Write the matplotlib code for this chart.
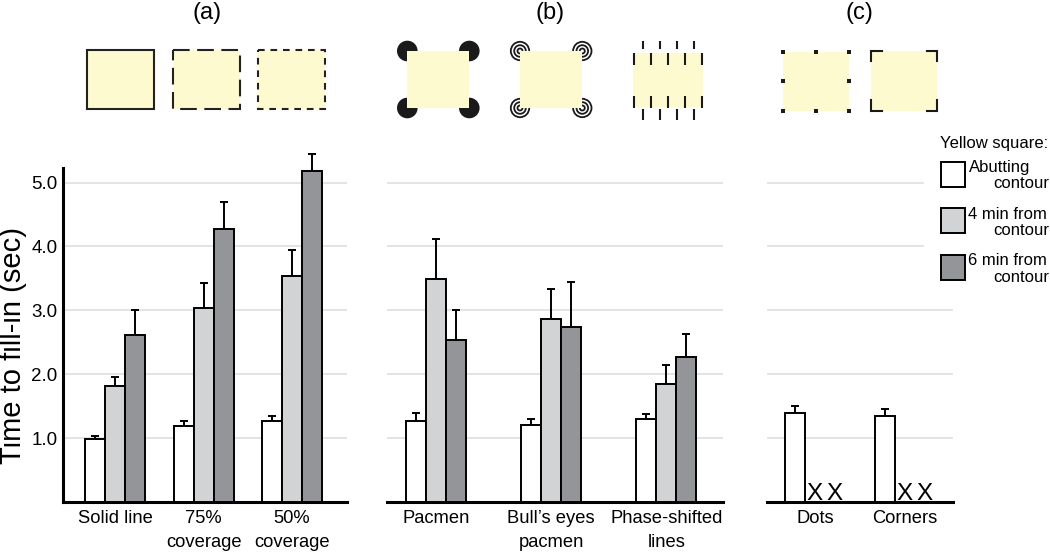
import numpy as np
import matplotlib
matplotlib.use("Agg")
import matplotlib.pyplot as plt
from matplotlib.patches import Rectangle, Circle

plt.rcParams['font.family'] = ['Liberation Sans', 'DejaVu Sans']

# ---------------- data ----------------
series_labels = ["Abutting", "4 min from", "6 min from"]
series_sub = ["contour", "contour", "contour"]
legend_title = "Yellow square:"
panel_titles = ["(a)", "(b)", "(c)"]
ylabel = "Time to fill-in (sec)"
yticks = [1.0, 2.0, 3.0, 4.0, 5.0]
ytick_labels = ["1.0", "2.0", "3.0", "4.0", "5.0"]

cats_a = ["Solid line", "75%\ncoverage", "50%\ncoverage"]
abut_a = [0.98, 1.19, 1.27]
abut_a_err = [0.06, 0.08, 0.07]
min4_a = [1.81, 3.04, 3.53]
min4_a_err = [0.14, 0.39, 0.42]
min6_a = [2.61, 4.28, 5.18]
min6_a_err = [0.40, 0.42, 0.27]

cats_b = ["Pacmen", "Bull\u2019s eyes\npacmen", "Phase-shifted\nlines"]
abut_b = [1.26, 1.20, 1.30]
abut_b_err = [0.13, 0.10, 0.08]
min4_b = [3.49, 2.87, 1.84]
min4_b_err = [0.62, 0.47, 0.30]
min6_b = [2.54, 2.74, 2.27]
min6_b_err = [0.47, 0.70, 0.36]

cats_c = ["Dots", "Corners"]
abut_c = [1.39, 1.34]
abut_c_err = [0.12, 0.11]
min4_c = [np.nan, np.nan]   # no fill-in (marked X)
min4_c_err = [np.nan, np.nan]
min6_c = [np.nan, np.nan]   # no fill-in (marked X)
min6_c_err = [np.nan, np.nan]

colors = ["#ffffff", "#d1d3d4", "#939598"]
yellow = "#fefad0"

# ---------------- layout ----------------
W, H = 1050, 552
fig = plt.figure(figsize=(W / 100, H / 100), dpi=100)
PPU = 63.9       # pixels per second
Y0 = 502.0       # pixel row of value 0
YMAX = 5.6

ov = fig.add_axes([0, 0, 1, 1], zorder=0)
ov.set_xlim(0, W)
ov.set_ylim(H, 0)
ov.axis('off')


def panel_axes(x0, x1):
    ax = fig.add_axes([x0 / W, (H - Y0) / H, (x1 - x0) / W, YMAX * PPU / H], zorder=1)
    ax.set_facecolor('none')
    ax.set_ylim(0, YMAX)
    for s in ['top', 'right', 'left']:
        ax.spines[s].set_visible(False)
    ax.spines['bottom'].set_linewidth(2.2)
    ax.spines['bottom'].set_color('black')
    ax.tick_params(axis='x', length=0, pad=5.8, labelsize=13.2)
    ax.tick_params(axis='y', length=0, pad=4, labelsize=13.5)
    ax.set_yticks([])
    return ax


def draw_panel(ax, x0_px, x1_px, first_c, spacing, cats, vals, errs, grid_ext=None):
    ax.set_xlim(-(first_c - x0_px) / spacing, (x1_px - first_c) / spacing)
    w = 20.0 / spacing
    x = np.arange(len(cats))
    # gridlines
    for i, yt in enumerate(yticks):
        xmax = 1.0 if grid_ext is None else grid_ext[i]
        ax.axhline(yt, xmin=0, xmax=xmax, color='#dcdddf', lw=1.1, zorder=0)
    for s, (v, e) in enumerate(zip(vals, errs)):
        v = np.asarray(v, dtype=float)
        e = np.asarray(e, dtype=float)
        pos = x + (s - 1) * w
        ok = ~np.isnan(v)
        ax.bar(pos[ok], v[ok], w, color=colors[s], edgecolor='black', linewidth=1.4, zorder=3)
        ax.errorbar(pos[ok], v[ok], yerr=[np.zeros(ok.sum()), e[ok]], fmt='none',
                    ecolor='black', elinewidth=1.4, capsize=2.6, capthick=1.4, zorder=2)
        for p in pos[~ok]:
            ax.text(p, 0.03, "X", ha='center', va='baseline', fontsize=17.5,
                    color='black', zorder=4)
    ax.set_xticks(x)
    ax.set_xticklabels(cats, linespacing=1.5)


# panel (a)
ax_a = panel_axes(63, 347)
draw_panel(ax_a, 63, 347, 115.4, 88.2, cats_a,
           [abut_a, min4_a, min6_a], [abut_a_err, min4_a_err, min6_a_err])
ax_a.spines['left'].set_visible(True)
ax_a.spines['left'].set_linewidth(2.2)
ax_a.spines['left'].set_bounds(0, 5.22)
ax_a.set_yticks(yticks)
ax_a.set_yticklabels(ytick_labels)

# panel (b)
ax_b = panel_axes(387, 723)
draw_panel(ax_b, 387, 723, 436.3, 115.0, cats_b,
           [abut_b, min4_b, min6_b], [abut_b_err, min4_b_err, min6_b_err])

# panel (c)
ax_c = panel_axes(767, 953)
fr = (923 - 767) / (953 - 767)
draw_panel(ax_c, 767, 953, 815.0, 90.0, cats_c,
           [abut_c, min4_c, min6_c], [abut_c_err, min4_c_err, min6_c_err],
           grid_ext=[1, 1, 1, fr, fr])

# y label
ov.text(21.5, 345, ylabel, rotation=90, rotation_mode='anchor', ha='center',
        va='baseline', fontsize=21)

# panel titles
for t, xc in zip(panel_titles, [207, 550, 859]):
    ov.text(xc, 19, t, ha='center', va='baseline', fontsize=17)

# ---------------- icons ----------------
LW = 1.5
# (a) solid / long dash / short dash squares
for xl, ls in zip([86.7, 172.7, 258.3], ['-', (0, (8, 3.6)), (0, (3.2, 2.8))]):
    ov.add_patch(Rectangle((xl, 50), 67, 59, facecolor=yellow, edgecolor='#222222',
                           lw=LW, linestyle=ls, zorder=2))

# (b) pacmen
sx, sy, sw, sh = 407.3, 51, 62, 57
for cx in (sx, sx + sw):
    for cy in (sy, sy + sh):
        ov.add_patch(Circle((cx, cy), 10.3, facecolor='#1a1a1a', edgecolor='none', zorder=1))
ov.add_patch(Rectangle((sx, sy), sw, sh, facecolor=yellow, edgecolor='none', zorder=2))

# (b) bull's eyes
sx, sy, sw, sh = 520, 51, 62.3, 57
for cx in (sx, sx + sw):
    for cy in (sy, sy + sh):
        for r in (9.2, 5.8, 2.5):
            ov.add_patch(Circle((cx, cy), r, facecolor='none', edgecolor='#1a1a1a',
                                lw=1.3, zorder=1))
ov.add_patch(Rectangle((sx, sy), sw, sh, facecolor=yellow, edgecolor='none', zorder=2))

# (b) phase-shifted lines
sx, sy, sw, sh = 633.3, 53, 70, 54
ov.add_patch(Rectangle((sx, sy), sw, sh, facecolor=yellow, edgecolor='none', zorder=2))
inner = np.linspace(sx + 1, sx + sw - 1, 5)
outer = (inner[:-1] + inner[1:]) / 2
ov.vlines(inner, sy - 0.5, sy + 12, color='#1a1a1a', lw=1.5, zorder=3)
ov.vlines(inner, sy + sh - 11, sy + sh + 1.3, color='#1a1a1a', lw=1.5, zorder=3)
ov.vlines(outer, sy - 12.3, sy - 3.7, color='#1a1a1a', lw=1.5, zorder=3)
ov.vlines(outer, sy + sh + 2.3, sy + sh + 13, color='#1a1a1a', lw=1.5, zorder=3)

# (c) dots
sx, sy, sw, sh = 782.7, 51.7, 66.6, 59
ov.add_patch(Rectangle((sx, sy), sw, sh, facecolor=yellow, edgecolor='none', zorder=2))
dx = [sx, sx + sw / 2, sx + sw, sx, sx + sw, sx, sx + sw / 2, sx + sw]
dy = [sy, sy, sy, sy + sh / 2, sy + sh / 2, sy + sh, sy + sh, sy + sh]
ov.scatter(dx, dy, marker='s', s=6, color='#1a1a1a', zorder=3, linewidths=0)

# (c) corners
sx, sy, sw, sh = 871, 50.7, 66.3, 60
ov.add_patch(Rectangle((sx, sy), sw, sh, facecolor=yellow, edgecolor='none', zorder=2))
arm = 10.5
for cx, ddx in ((sx, 1), (sx + sw, -1)):
    for cy, ddy in ((sy, 1), (sy + sh, -1)):
        ov.plot([cx + ddx * arm, cx, cx], [cy, cy, cy + ddy * arm], color='#1a1a1a',
                lw=1.5, solid_joinstyle='miter', zorder=3)

# ---------------- legend ----------------
ov.text(940, 148.3, legend_title, ha='left', va='baseline', fontsize=12)
box_tops = [161.7, 208.3, 255.0]
for i, (lab, sub) in enumerate(zip(series_labels, series_sub)):
    top = box_tops[i]
    ov.add_patch(Rectangle((940.5, top), 24.5, 25, facecolor=colors[i], edgecolor='black',
                           lw=1.4, zorder=2))
    ov.text(968.5, top + 10.3, lab, ha='left', va='baseline', fontsize=12)
    ov.text(993, top + 26.8, sub, ha='left', va='baseline', fontsize=12)

fig.savefig("out.png", dpi=100)
